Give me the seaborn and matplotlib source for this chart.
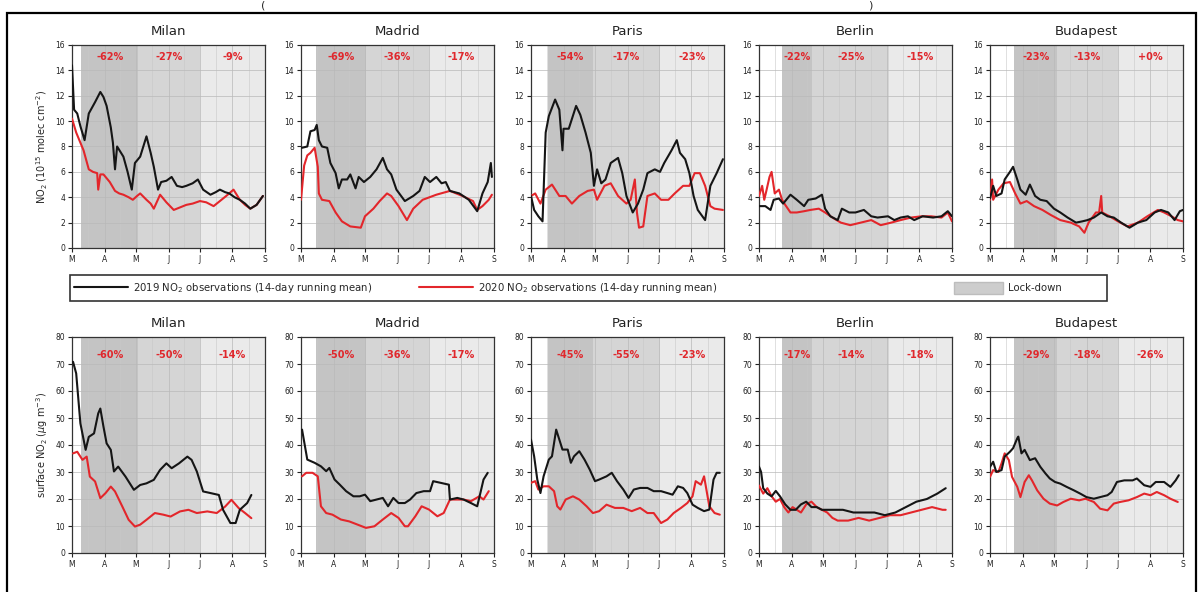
import numpy as np
import pandas as pd
import matplotlib
matplotlib.use("Agg")
import matplotlib.pyplot as plt
import seaborn as sns
from matplotlib.lines import Line2D
from matplotlib.patches import Patch, Rectangle

# ---------------- data ----------------
CITIES = ["Milan", "Madrid", "Paris", "Berlin", "Budapest"]
MONTH_TICKS = [0, 31, 61, 92, 122, 153, 184]
MONTH_LABELS = ["M", "A", "M", "J", "J", "A", "S"]

# lock-down phase boundaries (days since 1 March): start, phase-2, phase-3
PHASES = {
    "Milan": [9, 63, 122],
    "Madrid": [14, 62, 122],
    "Paris": [16, 59, 123],
    "Berlin": [22, 51, 124],
    "Budapest": [23, 64, 122],
}

PCT_COLUMN = {
    "Milan": ["-62%", "-27%", "-9%"],
    "Madrid": ["-69%", "-36%", "-17%"],
    "Paris": ["-54%", "-17%", "-23%"],
    "Berlin": ["-22%", "-25%", "-15%"],
    "Budapest": ["-23%", "-13%", "+0%"],
}
PCT_SURFACE = {
    "Milan": ["-60%", "-50%", "-14%"],
    "Madrid": ["-50%", "-36%", "-17%"],
    "Paris": ["-45%", "-55%", "-23%"],
    "Berlin": ["-17%", "-14%", "-18%"],
    "Budapest": ["-29%", "-18%", "-26%"],
}

# ---- tropospheric column NO2 (1e15 molec cm-2) ----
milan_col19_d = [0, 2, 5, 8, 12, 16, 22, 27, 30, 33, 37, 39, 41, 43, 46, 49, 53, 57, 60, 65, 71, 75, 78, 82, 85, 90,
                 95, 100, 105, 109, 115, 120, 125, 132, 137, 141, 146, 150, 155, 160, 165, 170, 176, 182]
milan_col19 = [14.4, 10.9, 10.6, 9.6, 8.5, 10.6, 11.5, 12.3, 11.9, 11.2, 9.5, 8.3, 6.2, 8.0, 7.6, 7.2, 6.0, 4.6, 6.7,
               7.2, 8.8, 7.5, 6.4, 4.6, 5.2, 5.3, 5.6, 4.9, 4.8, 4.9, 5.1, 5.4, 4.6, 4.2, 4.4, 4.6, 4.4, 4.3, 4.0, 3.8,
               3.5, 3.1, 3.4, 4.1]
milan_col20_d = [0, 4, 8, 11, 16, 20, 24, 25, 27, 30, 36, 41, 45, 49, 54, 58, 62, 65, 71, 75, 78, 84, 90, 97, 103, 109,
                 115, 122, 128, 135, 141, 147, 154, 160, 165, 170, 176, 182]
milan_col20 = [10.2, 9.1, 8.3, 7.7, 6.2, 6.0, 5.9, 4.6, 5.8, 5.8, 5.2, 4.5, 4.3, 4.2, 4.0, 3.8, 4.1, 4.3, 3.8, 3.5, 3.1,
               4.2, 3.6, 3.0, 3.2, 3.4, 3.5, 3.7, 3.6, 3.3, 3.7, 4.1, 4.6, 3.8, 3.4, 3.1, 3.4, 4.1]

madrid_col19_d = [1, 6, 9, 13, 15, 17, 20, 25, 28, 33, 36, 39, 44, 47, 52, 55, 60, 66, 72, 78, 82, 86, 91, 99, 107,
                  113, 118, 123, 129, 134, 138, 142, 151, 160, 168, 173, 178, 181, 182]
madrid_col19 = [7.9, 8.0, 9.2, 9.3, 9.7, 8.5, 8.0, 7.9, 6.7, 5.9, 4.7, 5.4, 5.4, 5.8, 4.7, 5.6, 5.2, 5.6, 6.2, 7.1, 6.2,
                5.8, 4.6, 3.7, 4.1, 4.5, 5.6, 5.2, 5.6, 5.1, 5.2, 4.5, 4.3, 3.8, 2.9, 4.3, 5.2, 6.7, 5.6]
madrid_col20_d = [0, 3, 6, 9, 13, 16, 17, 20, 27, 33, 39, 47, 57, 61, 69, 75, 82, 86, 93, 101, 107, 116, 129, 142, 154,
                  164, 168, 173, 179, 182]
madrid_col20 = [3.8, 6.5, 7.3, 7.5, 7.9, 6.4, 4.3, 3.8, 3.7, 2.8, 2.1, 1.7, 1.6, 2.5, 3.1, 3.7, 4.3, 4.1, 3.3, 2.2, 3.1,
                3.8, 4.2, 4.5, 4.1, 3.7, 3.0, 3.3, 3.8, 4.2]

paris_col19_d = [0, 3, 7, 11, 14, 17, 23, 27, 30, 31, 36, 43, 47, 52, 57, 60, 63, 67, 71, 76, 83, 87, 91, 97, 102, 107,
                 111, 118, 123, 127, 134, 139, 142, 147, 151, 155, 159, 166, 171, 177, 183]
paris_col19 = [4.1, 3.0, 2.5, 2.1, 9.1, 10.4, 11.7, 10.9, 7.7, 9.4, 9.4, 11.2, 10.5, 9.1, 7.5, 4.9, 6.2, 5.1, 5.4, 6.7,
               7.1, 5.9, 4.1, 2.8, 3.5, 4.6, 5.9, 6.2, 6.0, 6.7, 7.7, 8.5, 7.5, 7.0, 5.9, 4.1, 3.0, 2.2, 4.9, 5.9, 7.0]
paris_col20_d = [0, 4, 9, 14, 20, 27, 33, 39, 46, 54, 60, 63, 70, 76, 83, 91, 95, 99, 101, 103, 107, 111, 118, 124,
                 131, 137, 145, 151, 156, 161, 166, 171, 175, 183]
paris_col20 = [4.1, 4.3, 3.5, 4.6, 5.0, 4.1, 4.1, 3.5, 4.1, 4.5, 4.6, 3.8, 4.9, 5.1, 4.1, 3.5, 3.8, 5.4, 2.8, 1.6, 1.7,
               4.1, 4.3, 3.8, 3.8, 4.3, 4.9, 4.9, 5.9, 5.9, 4.9, 3.3, 3.1, 3.0]

berlin_col19_d = [0, 6, 11, 14, 19, 23, 30, 36, 43, 47, 54, 60, 63, 68, 75, 79, 86, 92, 100, 107, 113, 123, 129, 135,
                  142, 148, 156, 166, 174, 180, 184]
berlin_col19 = [3.3, 3.3, 3.0, 3.8, 3.9, 3.5, 4.2, 3.8, 3.3, 3.8, 3.9, 4.2, 3.1, 2.5, 2.2, 3.1, 2.8, 2.8, 3.0, 2.5, 2.4,
                2.5, 2.2, 2.4, 2.5, 2.2, 2.5, 2.4, 2.5, 2.9, 2.5]
berlin_col20_d = [0, 3, 5, 7, 10, 12, 15, 19, 22, 25, 30, 36, 43, 49, 57, 63, 70, 78, 87, 97, 107, 116, 126, 135, 145,
                  155, 164, 174, 180, 184]
berlin_col20 = [4.1, 4.9, 3.8, 4.5, 5.6, 6.0, 4.3, 4.6, 3.8, 3.4, 2.8, 2.8, 2.9, 3.0, 3.1, 2.8, 2.4, 2.0, 1.8, 2.0, 2.2,
                1.8, 2.0, 2.2, 2.4, 2.5, 2.5, 2.4, 2.8, 2.1]

budapest_col19_d = [0, 3, 6, 11, 14, 19, 22, 26, 29, 34, 38, 43, 48, 54, 61, 67, 74, 82, 88, 93, 99, 106, 112, 118, 125,
                    133, 141, 149, 157, 163, 170, 176, 181, 184]
budapest_col19 = [3.9, 4.9, 4.1, 4.3, 5.4, 6.0, 6.4, 5.4, 4.6, 4.2, 5.0, 4.1, 3.8, 3.7, 3.1, 2.8, 2.4, 2.0, 2.1, 2.2,
                  2.4, 2.8, 2.5, 2.4, 2.0, 1.6, 2.0, 2.2, 2.8, 3.0, 2.8, 2.2, 2.9, 3.0]
budapest_col20_d = [0, 2, 3, 8, 13, 19, 24, 29, 35, 42, 50, 58, 67, 77, 85, 90, 94, 101, 104, 106, 107, 114, 122, 131,
                    141, 150, 160, 166, 173, 179, 184]
budapest_col20 = [3.8, 5.4, 3.8, 4.6, 5.1, 5.2, 4.3, 3.5, 3.7, 3.3, 3.0, 2.6, 2.2, 2.0, 1.7, 1.2, 2.0, 2.8, 2.8, 4.1,
                  2.8, 2.5, 2.1, 1.7, 2.0, 2.5, 3.0, 2.8, 2.5, 2.2, 2.1]

# ---- surface NO2 (ug m-3) ----
milan_sfc19_d = [1, 4, 8, 13, 16, 21, 25, 27, 30, 33, 37, 40, 44, 51, 59, 65, 71, 78, 84, 90, 95, 102, 110, 114, 119,
                 125, 132, 140, 144, 151, 156, 160, 167, 171]
milan_sfc19 = [70.8, 66.5, 48.0, 38.2, 43.0, 44.3, 51.7, 53.5, 46.8, 40.6, 38.2, 30.2, 32.0, 28.3, 23.4, 25.2, 25.8,
               27.1, 30.8, 33.2, 31.4, 33.2, 35.7, 34.5, 30.2, 22.8, 22.2, 21.5, 16.0, 11.1, 11.1, 16.0, 18.5, 21.5]
milan_sfc20_d = [1, 5, 10, 14, 17, 22, 27, 32, 37, 41, 48, 54, 60, 65, 71, 79, 87, 94, 103, 111, 119, 129, 138, 146,
                 152, 159, 165, 171]
milan_sfc20 = [36.9, 37.5, 34.5, 35.7, 28.3, 26.5, 20.3, 22.2, 24.6, 22.8, 17.2, 12.3, 9.8, 10.5, 12.3, 14.8, 14.2,
               13.5, 15.4, 16.0, 14.8, 15.4, 14.8, 17.2, 19.7, 16.6, 14.8, 12.9]

madrid_sfc19_d = [1, 6, 13, 19, 24, 27, 32, 37, 43, 50, 56, 61, 66, 72, 78, 83, 88, 93, 99, 104, 110, 117, 123, 126,
                  133, 141, 142, 149, 155, 162, 168, 171, 174, 178]
madrid_sfc19 = [45.7, 34.6, 33.4, 32.1, 30.3, 31.5, 27.2, 25.3, 22.9, 21.0, 21.0, 21.6, 19.2, 19.8, 20.4, 17.3, 20.4,
                18.5, 18.5, 19.8, 22.2, 22.9, 22.9, 26.6, 26.0, 25.3, 19.8, 20.4, 19.8, 18.5, 17.3, 22.2, 27.2, 29.7]
madrid_sfc20_d = [1, 5, 11, 16, 19, 24, 30, 38, 46, 54, 62, 70, 78, 86, 93, 99, 102, 109, 115, 122, 130, 136, 142, 149,
                  155, 162, 170, 174, 179]
madrid_sfc20 = [28.4, 29.7, 29.7, 28.4, 17.3, 14.8, 14.2, 12.4, 11.7, 10.5, 9.3, 9.9, 12.4, 14.8, 13.0, 9.9, 9.9, 13.6,
                17.3, 16.1, 13.6, 14.8, 19.8, 19.8, 19.8, 19.2, 21.0, 19.8, 22.9]

paris_sfc19_d = [0, 3, 6, 9, 12, 17, 20, 24, 27, 30, 35, 38, 41, 46, 51, 56, 61, 65, 72, 77, 82, 88, 93, 98, 104, 111,
                 117, 124, 130, 135, 140, 145, 149, 154, 159, 165, 170, 174, 177, 180]
paris_sfc19 = [42.0, 35.8, 27.2, 22.2, 28.4, 34.6, 35.8, 45.7, 42.0, 38.3, 38.3, 33.4, 35.8, 37.7, 34.6, 30.9, 26.6,
               27.2, 28.4, 29.7, 26.6, 23.5, 20.4, 23.5, 24.1, 24.1, 22.9, 22.9, 22.2, 21.6, 24.7, 24.1, 22.2, 17.9,
               16.7, 15.5, 16.1, 27.2, 29.7, 29.7]
paris_sfc20_d = [0, 4, 7, 12, 17, 22, 25, 28, 33, 40, 46, 53, 59, 65, 72, 80, 88, 96, 104, 111, 117, 124, 130, 136,
                 143, 149, 154, 157, 162, 165, 170, 175, 180]
paris_sfc20 = [26.0, 26.6, 23.5, 24.7, 24.7, 22.9, 17.3, 16.1, 19.8, 21.0, 19.8, 17.3, 14.8, 15.5, 17.9, 16.7, 16.7,
               15.5, 16.7, 14.8, 14.8, 11.1, 12.4, 14.8, 16.7, 18.5, 21.0, 26.6, 25.3, 28.4, 17.3, 14.8, 14.2]

berlin_sfc19_d = [0, 2, 4, 8, 12, 16, 20, 25, 30, 35, 40, 45, 50, 55, 60, 70, 80, 90, 100, 110, 120, 130, 140, 150,
                  160, 170, 178]
berlin_sfc19 = [32, 30, 24, 22, 21, 23, 21, 18, 16, 16, 18, 19, 17, 17, 16, 16, 16, 15, 15, 15, 14, 15, 17, 19, 20,
                22, 24]
berlin_sfc20_d = [0, 4, 8, 12, 16, 20, 24, 28, 32, 36, 40, 45, 50, 55, 60, 65, 70, 75, 85, 95, 105, 115, 125, 135,
                  145, 155, 165, 175, 178]
berlin_sfc20 = [25, 22, 24, 21, 19, 20, 17, 15, 17, 16, 15, 18, 19, 17, 16, 15, 13, 12, 12, 13, 12, 13, 14, 14, 15,
                16, 17, 16, 16]

budapest_sfc19_d = [0, 3, 6, 11, 14, 19, 22, 26, 27, 30, 33, 38, 43, 48, 53, 57, 62, 67, 73, 80, 86, 92, 99, 105, 112,
                    116, 121, 128, 136, 140, 147, 153, 158, 166, 172, 177, 180]
budapest_sfc19 = [31.9, 33.8, 30.0, 30.7, 35.7, 37.5, 38.8, 42.5, 43.1, 36.9, 38.2, 34.4, 35.1, 31.9, 29.4, 27.6, 26.3,
                  25.7, 24.5, 23.2, 22.0, 20.7, 20.1, 20.7, 21.4, 22.6, 26.3, 26.9, 26.9, 27.6, 25.1, 24.5, 26.3, 26.3,
                  24.5, 26.9, 28.8]
budapest_sfc20_d = [0, 3, 8, 11, 14, 18, 21, 26, 29, 33, 37, 40, 45, 51, 57, 64, 70, 77, 85, 91, 99, 105, 112, 118,
                    124, 132, 140, 147, 153, 159, 166, 172, 179]
budapest_sfc20 = [28.2, 30.7, 30.0, 33.2, 36.9, 34.4, 28.2, 24.5, 20.7, 26.3, 28.8, 26.9, 23.2, 20.1, 18.3, 17.6, 18.9,
                  20.1, 19.5, 20.1, 18.9, 16.4, 15.8, 18.3, 18.9, 19.5, 20.7, 22.0, 21.4, 22.6, 21.4, 20.1, 18.9]

COLUMN_SERIES = {
    "Milan": ((milan_col19_d, milan_col19), (milan_col20_d, milan_col20)),
    "Madrid": ((madrid_col19_d, madrid_col19), (madrid_col20_d, madrid_col20)),
    "Paris": ((paris_col19_d, paris_col19), (paris_col20_d, paris_col20)),
    "Berlin": ((berlin_col19_d, berlin_col19), (berlin_col20_d, berlin_col20)),
    "Budapest": ((budapest_col19_d, budapest_col19), (budapest_col20_d, budapest_col20)),
}
SURFACE_SERIES = {
    "Milan": ((milan_sfc19_d, milan_sfc19), (milan_sfc20_d, milan_sfc20)),
    "Madrid": ((madrid_sfc19_d, madrid_sfc19), (madrid_sfc20_d, madrid_sfc20)),
    "Paris": ((paris_sfc19_d, paris_sfc19), (paris_sfc20_d, paris_sfc20)),
    "Berlin": ((berlin_sfc19_d, berlin_sfc19), (berlin_sfc20_d, berlin_sfc20)),
    "Budapest": ((budapest_sfc19_d, budapest_sfc19), (budapest_sfc20_d, budapest_sfc20)),
}

LEGEND_LABELS = ["2019 NO$_2$ observations (14-day running mean)",
                 "2020 NO$_2$ observations (14-day running mean)",
                 "Lock-down"]

# ---------------- style ----------------
sns.set_theme(style="ticks")
plt.rcParams["font.family"] = ["DejaVu Sans"]

C19 = "#151515"
C20 = "#e3262b"
SHADES = ["#c4c4c4", "#d5d5d5", "#eaeaea"]
PCT_COLOR = "#e0282d"

fig = plt.figure(figsize=(12, 5.92), dpi=100)
W, H = 1200.0, 592.0

lefts = [72, 301, 531, 759, 990]
aw = 193
rows = [
    dict(top=45, bot=248, ylim=(0, 16), yticks=np.arange(0, 17, 2),
         ylabel="NO$_2$ (10$^{15}$ molec cm$^{-2}$)", series=COLUMN_SERIES, pct=PCT_COLUMN, pcty=0.94),
    dict(top=337, bot=553, ylim=(0, 80), yticks=np.arange(0, 81, 10),
         ylabel="surface NO$_2$ ($\\mu$g m$^{-3}$)", series=SURFACE_SERIES, pct=PCT_SURFACE, pcty=0.915),
]

for r in rows:
    for i, city in enumerate(CITIES):
        ax = fig.add_axes([lefts[i] / W, 1 - r["bot"] / H, aw / W, (r["bot"] - r["top"]) / H])
        ph = PHASES[city]
        bounds = [ph[0], ph[1], ph[2], MONTH_TICKS[-1]]
        for k in range(3):
            ax.axvspan(bounds[k], bounds[k + 1], color=SHADES[k], lw=0, zorder=0)
        (d19, v19), (d20, v20) = r["series"][city]
        df19 = pd.DataFrame({"day": d19, "no2": v19})
        df20 = pd.DataFrame({"day": d20, "no2": v20})
        sns.lineplot(data=df20, x="day", y="no2", ax=ax, color=C20, lw=1.5, zorder=3, estimator=None)
        sns.lineplot(data=df19, x="day", y="no2", ax=ax, color=C19, lw=1.5, zorder=4, estimator=None)
        ax.set_xlim(MONTH_TICKS[0], MONTH_TICKS[-1])
        ax.set_ylim(*r["ylim"])
        ax.set_xticks(MONTH_TICKS)
        ax.set_xticklabels(MONTH_LABELS)
        ax.set_xticks([(MONTH_TICKS[j] + MONTH_TICKS[j + 1]) / 2 for j in range(6)], minor=True)
        ax.set_yticks(r["yticks"])
        ax.grid(True, which="major", color="#b9b9b9", lw=0.5, zorder=1)
        ax.grid(True, which="minor", axis="x", color="#c8c8c8", lw=0.4, zorder=1)
        ax.set_axisbelow(True)
        ax.tick_params(axis="both", which="major", labelsize=5.5, length=3, width=0.8, pad=2, colors="#222222")
        ax.tick_params(axis="x", which="minor", length=0)
        for s in ax.spines.values():
            s.set_color("#333333")
            s.set_linewidth(0.9)
        ax.set_xlabel("")
        ax.set_ylabel(r["ylabel"] if i == 0 else "", fontsize=7, labelpad=4)
        ax.set_title(city, fontsize=9.5, color="#222222", pad=7)
        for k in range(3):
            xm = (bounds[k] + bounds[k + 1]) / 2
            ax.text(xm, r["pcty"], r["pct"][city][k], transform=ax.get_xaxis_transform(),
                    ha="center", va="center", color=PCT_COLOR, fontsize=7, fontweight="bold", zorder=6)

# legend: three entries placed at their own positions, inside one frame
handles = [Line2D([], [], color=C19, lw=1.5), Line2D([], [], color=C20, lw=1.5),
           Patch(facecolor="#cdcdcd", edgecolor="#bdbdbd")]
leg_x = [74, 419, 954]
leg_hl = [5.3, 5.3, 4.8]
leg_hh = [0.7, 0.7, 1.3]
for h, lab, x, hl, hh in zip(handles, LEGEND_LABELS, leg_x, leg_hl, leg_hh):
    fig.legend([h], [lab], loc="center left", bbox_to_anchor=(x / W, 1 - 288 / H),
               fontsize=7.3, frameon=False, handlelength=hl, handleheight=hh, handletextpad=0.5,
               borderpad=0, borderaxespad=0)
fig.patches.append(Rectangle((70 / W, 1 - 301 / H), (1107 - 70) / W, 26 / H,
                             transform=fig.transFigure, fill=False, edgecolor="#333333", lw=1.2))

# figure border (panel frame)
fig.patches.append(Rectangle((7 / W, -0.05), (1196 - 7) / W, 1 - 13 / H + 0.05,
                             transform=fig.transFigure, fill=False, edgecolor="black", lw=1.6))
fig.text(263 / W, 1 - 1 / H, "(", fontsize=8, ha="center", va="top")
fig.text(870 / W, 1 - 1 / H, ")", fontsize=8, ha="center", va="top")

fig.savefig("out.png", dpi=100)
